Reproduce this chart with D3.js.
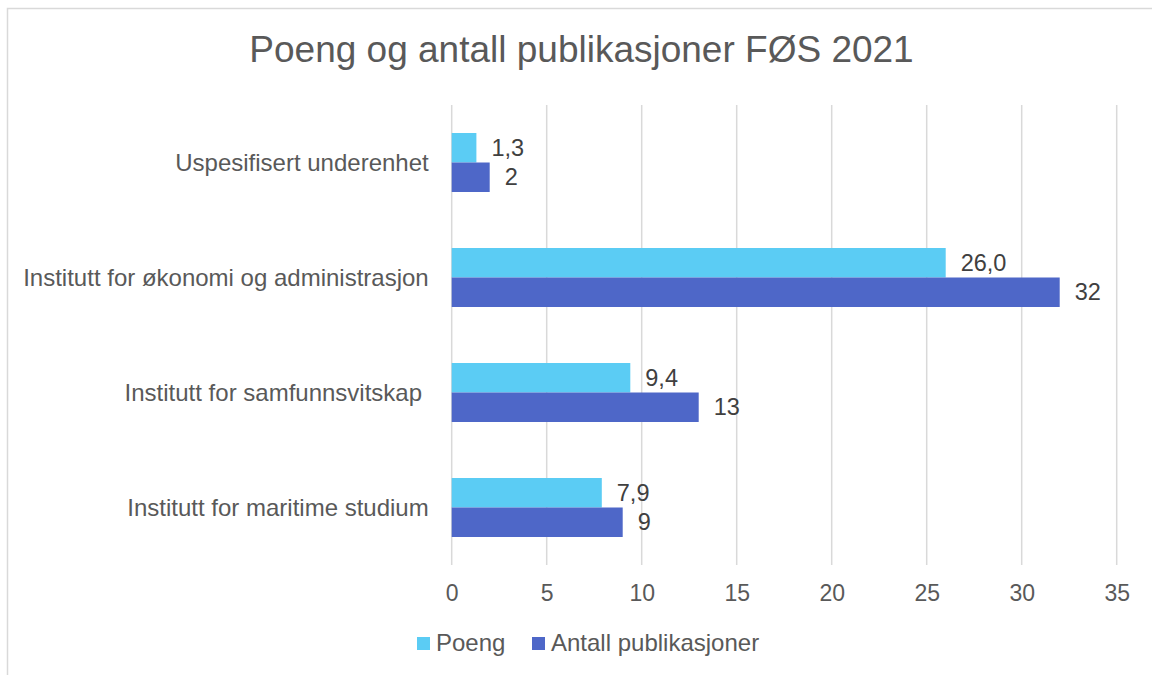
<!DOCTYPE html>
<html>
<head>
<meta charset="utf-8">
<script src="https://cdn.jsdelivr.net/npm/d3@7"></script>
<style>
  html, body { margin: 0; padding: 0; background: #ffffff; }
  svg { display: block; font-family: "Liberation Sans", Arial, sans-serif; }
</style>
</head>
<body>
<svg id="chart" width="1152" height="675"></svg>
<script>
// Institutes (top to bottom) and the two series per institute
const categories = [
  "Uspesifisert underenhet",
  "Institutt for økonomi og administrasjon",
  "Institutt for samfunnsvitskap ",
  "Institutt for maritime studium"
];
const poeng = [1.3, 26.0, 9.4, 7.9];
const antall = [2, 32, 13, 9];
const xTicks = [0, 5, 10, 15, 20, 25, 30, 35];
const seriesNames = ["Poeng", "Antall publikasjoner"];
const seriesColors = ["#5BCCF4", "#4E67C8"];

const svg = d3.select("#chart");

// Outer frame
svg.append("rect")
  .attr("x", 7.5).attr("y", 8.5)
  .attr("width", 1160).attr("height", 700)
  .attr("fill", "#ffffff")
  .attr("stroke", "#d9d9d9").attr("stroke-width", 1.5);

// Title
svg.append("text")
  .attr("x", 581.5).attr("y", 62)
  .attr("text-anchor", "middle")
  .attr("font-size", 37)
  .attr("fill", "#595959")
  .text("Poeng og antall publikasjoner FØS 2021");

const plot = { left: 451.7, right: 1116.7, top: 105, bottom: 565 };

const x = d3.scaleLinear().domain([0, 35]).range([plot.left, plot.right]);
const y = d3.scaleBand().domain(categories).range([plot.top, plot.bottom]).padding(0);
const barH = y.bandwidth() * 0.2565;

// Vertical gridlines
svg.append("g")
  .selectAll("line")
  .data(xTicks)
  .join("line")
  .attr("x1", d => x(d)).attr("x2", d => x(d))
  .attr("y1", plot.top).attr("y2", plot.bottom)
  .attr("stroke", "#d9d9d9").attr("stroke-width", 1.5);

// X axis tick labels
const xAxis = d3.axisBottom(x).tickValues(xTicks).tickSize(0).tickPadding(0)
  .tickFormat(d3.format("d"));
const gx = svg.append("g")
  .attr("transform", `translate(0,${plot.bottom})`)
  .call(xAxis);
gx.select(".domain").remove();
gx.selectAll("text")
  .attr("y", 35.5).attr("dy", 0)
  .attr("font-size", 23)
  .attr("font-family", "Liberation Sans, Arial, sans-serif")
  .attr("fill", "#595959");

// Category labels (trailing spaces kept as written)
const yAxis = d3.axisLeft(y).tickSize(0).tickPadding(0);
const gy = svg.append("g")
  .attr("transform", `translate(${plot.left},0)`)
  .call(yAxis);
gy.select(".domain").remove();
gy.selectAll("text")
  .attr("x", -23)
  .attr("dy", "0.35em")
  .attr("font-size", 24)
  .attr("font-family", "Liberation Sans, Arial, sans-serif")
  .attr("fill", "#595959")
  .style("white-space", "pre");

// Bars: Poeng above, Antall publikasjoner below, centred in each band
const rows = categories.map((c, i) => ({ c, vals: [poeng[i], antall[i]] }));
const groups = svg.append("g").selectAll("g")
  .data(rows)
  .join("g")
  .attr("transform", d => `translate(0,${y(d.c) + y.bandwidth() / 2 - barH})`);

groups.selectAll("rect")
  .data(d => d.vals.map((v, k) => ({ v, k })))
  .join("rect")
  .attr("x", x(0))
  .attr("y", d => d.k * barH)
  .attr("width", d => x(d.v) - x(0))
  .attr("height", barH)
  .attr("fill", d => seriesColors[d.k]);

// Value labels
const fmt = [v => d3.format(".1f")(v).replace(".", ","), v => d3.format("d")(v)];
groups.selectAll("text")
  .data(d => d.vals.map((v, k) => ({ v, k })))
  .join("text")
  .attr("x", d => x(d.v) + 15)
  .attr("y", d => d.k * barH + barH / 2)
  .attr("dy", "0.35em")
  .attr("font-size", 23.5)
  .attr("fill", "#404040")
  .text(d => fmt[d.k](d.v));

// Legend
const legendItems = [
  { name: seriesNames[0], color: seriesColors[0], x: 417 },
  { name: seriesNames[1], color: seriesColors[1], x: 532 }
];
const lg = svg.append("g").selectAll("g")
  .data(legendItems)
  .join("g")
  .attr("transform", d => `translate(${d.x},637)`);
lg.append("rect")
  .attr("width", 13).attr("height", 13)
  .attr("fill", d => d.color);
lg.append("text")
  .attr("x", 19).attr("y", 14)
  .attr("font-size", 24)
  .attr("fill", "#595959")
  .text(d => d.name);
</script>
</body>
</html>
